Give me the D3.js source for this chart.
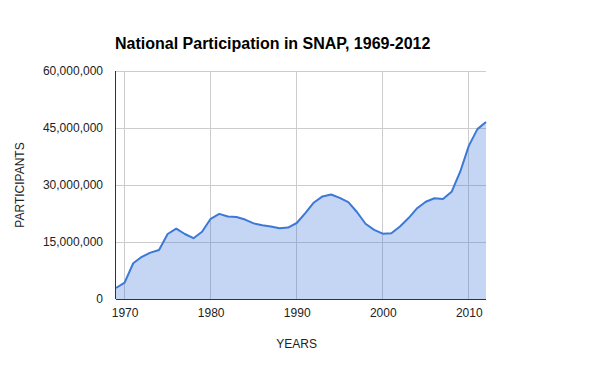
<!DOCTYPE html>
<html>
<head>
<meta charset="utf-8">
<script src="https://cdn.jsdelivr.net/npm/d3@7"></script>
<style>
  body { margin: 0; background: #fff; }
  svg { font-family: Arial, "Liberation Sans", sans-serif; }
</style>
</head>
<body>
<svg id="chart" width="600" height="371"></svg>
<script>
// SNAP participants per year
const years = [1969, 1970, 1971, 1972, 1973, 1974, 1975, 1976, 1977, 1978, 1979,
  1980, 1981, 1982, 1983, 1984, 1985, 1986, 1987, 1988, 1989,
  1990, 1991, 1992, 1993, 1994, 1995, 1996, 1997, 1998, 1999,
  2000, 2001, 2002, 2003, 2004, 2005, 2006, 2007, 2008, 2009,
  2010, 2011, 2012];
const participants = [2.9, 4.3, 9.4, 11.1, 12.2, 12.9, 17.1, 18.5, 17.1, 16.0, 17.7,
  21.1, 22.4, 21.7, 21.6, 20.9, 19.9, 19.4, 19.1, 18.6, 18.8,
  20.0, 22.6, 25.4, 27.0, 27.5, 26.6, 25.5, 22.9, 19.8, 18.2,
  17.2, 17.3, 19.1, 21.3, 23.9, 25.6, 26.5, 26.3, 28.2, 33.5,
  40.3, 44.7, 46.6].map(v => v * 1e6);
const yTicks = [0, 15e6, 30e6, 45e6, 60e6];
const xTicks = [1970, 1980, 1990, 2000, 2010];

const data = years.map((yr, i) => ({ year: yr, value: participants[i] }));

const margin = { top: 71, right: 114, bottom: 72, left: 116 };
const svg = d3.select("#chart");
const width = 600 - margin.left - margin.right;
const height = 371 - margin.top - margin.bottom;

const x = d3.scaleLinear().domain([1969, 2012]).range([0, width]);
const y = d3.scaleLinear().domain([0, 60e6]).range([height, 0]);

const g = svg.append("g").attr("transform", `translate(${margin.left},${margin.top})`);

// gridlines
g.append("g")
  .selectAll("line")
  .data(yTicks)
  .join("line")
  .attr("x1", 0).attr("x2", width)
  .attr("y1", d => y(d)).attr("y2", d => y(d))
  .attr("stroke", "#cccccc").attr("stroke-width", 1)
  .attr("shape-rendering", "crispEdges");
g.append("g")
  .selectAll("line")
  .data(xTicks)
  .join("line")
  .attr("x1", d => x(d)).attr("x2", d => x(d))
  .attr("y1", 0).attr("y2", height)
  .attr("stroke", "#cccccc").attr("stroke-width", 1)
  .attr("shape-rendering", "crispEdges");

// area + line
const area = d3.area().x(d => x(d.year)).y0(y(0)).y1(d => y(d.value));
const line = d3.line().x(d => x(d.year)).y(d => y(d.value));

g.append("path").datum(data)
  .attr("d", area)
  .attr("fill", "#3c78d8").attr("fill-opacity", 0.3);
g.append("path").datum(data)
  .attr("d", line)
  .attr("fill", "none")
  .attr("stroke", "#3c78d8").attr("stroke-width", 2)
  .attr("stroke-linejoin", "round");

// axes
const xAxis = g.append("g")
  .attr("transform", `translate(0,${height})`)
  .call(d3.axisBottom(x).tickValues(xTicks).tickFormat(d3.format("d")).tickSize(0).tickPadding(9));
const yAxis = g.append("g")
  .call(d3.axisLeft(y).tickValues(yTicks).tickFormat(d3.format(",")).tickSize(0).tickPadding(13));

[xAxis, yAxis].forEach(a => {
  a.select(".domain").attr("stroke", "#333333").attr("stroke-width", 1);
  a.selectAll("text").attr("font-size", 12).attr("fill", "#222222")
    .attr("font-family", "Arial, 'Liberation Sans', sans-serif");
});
xAxis.select(".domain").attr("d", `M0,0.5H${width}`);
yAxis.select(".domain").attr("d", `M-0.5,0V${height}`);

// title and axis titles
svg.append("text")
  .attr("x", 115).attr("y", 49)
  .attr("font-size", 16).attr("font-weight", "bold").attr("fill", "#000")
  .text("National Participation in SNAP, 1969-2012");

svg.append("text")
  .attr("x", margin.left + x(1990)).attr("y", 348)
  .attr("text-anchor", "middle")
  .attr("font-size", 12).attr("fill", "#222222")
  .text("YEARS");

svg.append("text")
  .attr("transform", `translate(24,185) rotate(-90)`)
  .attr("text-anchor", "middle")
  .attr("font-size", 12).attr("fill", "#222222")
  .text("PARTICIPANTS");
</script>
</body>
</html>
